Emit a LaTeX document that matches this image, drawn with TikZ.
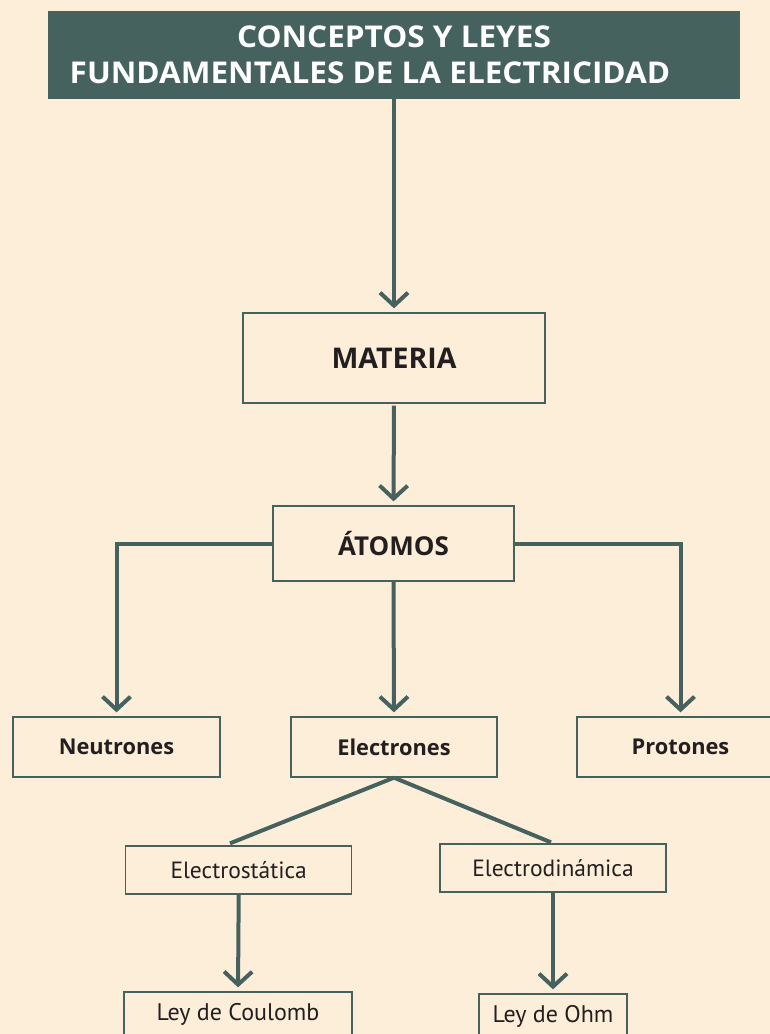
\documentclass[tikz,border=0pt]{standalone}
\usepackage{fontspec}
\setmainfont{PT Sans}
\newfontfamily\headfont{Open Sans}
\newfontfamily\titlefont{Open Sans}[FakeStretch=1.05]
\usetikzlibrary{arrows.meta,calc}
\definecolor{bgcream}{RGB}{253,238,217}
\definecolor{darkteal}{RGB}{70,98,95}
\definecolor{textdark}{RGB}{35,31,32}
\begin{document}
\begin{tikzpicture}[x=1pt,y=-1pt,
  box/.style={draw=darkteal, line width=1.3pt, inner sep=0pt, text=textdark, align=center},
  midbold/.style={font=\headfont\bfseries\fontsize{21.8}{25}\selectfont},
  small/.style={font=\fontsize{23.5}{27}\selectfont},
  conn/.style={draw=darkteal, line width=4pt},
  arr/.style={conn, -{Straight Barb[length=13pt,width=28pt,line cap=butt,line join=miter]}, shorten >=4pt}]
\fill[bgcream] (0,0) rectangle (770,1034);
\useasboundingbox (0,0) rectangle (770,1034);

\node[fill=darkteal, inner sep=0pt, minimum width=692pt, minimum height=88pt, text=white, align=center,
  font=\titlefont\bfseries\fontsize{30}{36}\selectfont] (title) at (394,55)
  {CONCEPTOS Y LEYES\\FUNDAMENTALES DE LA ELECTRICIDAD\hspace*{48pt}};

\node[box, font=\headfont\bfseries\fontsize{28.5}{32}\selectfont, minimum width=302pt, minimum height=90pt] (mat) at (394,358) {MATERIA};
\node[box, font=\headfont\bfseries\fontsize{26}{30}\selectfont, minimum width=241pt, minimum height=75pt] (ato) at (393.5,543.5) {ÁTOMOS};

\node[box, midbold, minimum width=207pt, minimum height=60pt] (neu) at (116.5,747) {Neutrones};
\node[box, midbold, minimum width=206pt, minimum height=60pt] (ele) at (394,747) {Electrones};
\node[box, midbold, minimum width=207pt, minimum height=60pt] (pro) at (680.5,747) {Protones};

\node[box, small, minimum width=226pt, minimum height=48pt] (est) at (238.7,870) {Electrostática};
\node[box, small, minimum width=226pt, minimum height=48pt] (edi) at (553,868) {Electrodinámica};

\node[box, small, font=\fontsize{24}{28}\selectfont, minimum width=228pt, minimum height=44pt] (cou) at (238,1014) {Ley de Coulomb};
\node[box, small, font=\fontsize{24}{28}\selectfont, minimum width=148pt, minimum height=44pt] (ohm) at (553,1016) {Ley de Ohm};

\draw[arr] (title.south) -- (mat.north);
\draw[arr, shorten <=2pt] (mat.south) -- (ato.north);
\draw[arr] (ato.west) -| (neu.north);
\draw[arr] (ato.east) -| (pro.north);
\draw[arr] (ato.south) -- (ele.north);

\coordinate (estTop) at ($(est.north)+(-8.7pt,2pt)$);
\coordinate (ediTop) at ($(edi.north)+(-2pt,1pt)$);
\draw[conn] (ele.south) -- (estTop);
\draw[conn] (ele.south) -- (ediTop);

\draw[arr] (est.south) -- (cou.north);
\draw[arr] (edi.south) -- (ohm.north);
\end{tikzpicture}
\end{document}
